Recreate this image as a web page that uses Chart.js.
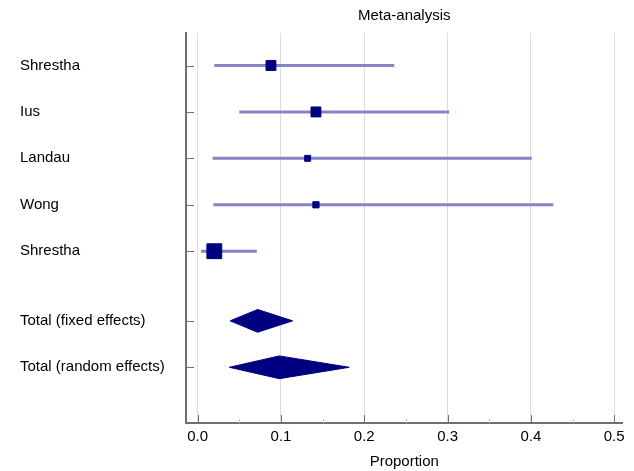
<!DOCTYPE html>
<html>
<head>
<meta charset="utf-8">
<script src="https://cdn.jsdelivr.net/npm/chart.js@4.4.0/dist/chart.umd.min.js"></script>
<style>
    html, body { margin: 0; padding: 0; background: #ffffff; }
    #wrap { width: 634px; height: 471px; }
</style>
</head>
<body>
<div id="wrap"><canvas id="forest"></canvas></div>
<script>
// studies
const studyNames = ['Shrestha', 'Ius', 'Landau', 'Wong', 'Shrestha'];
const studyEst = [0.088, 0.142, 0.132, 0.142, 0.020];
const studyLow = [0.020, 0.050, 0.018, 0.019, 0.004];
const studyHigh = [0.236, 0.302, 0.401, 0.427, 0.071];
const studyWeight = [7.0, 7.0, 4.2, 4.4, 10.5]; // marker half-size from weight

// pooled
const totalNames = ['Total (fixed effects)', 'Total (random effects)'];
const totalEst = [0.072, 0.098];
const totalLow = [0.039, 0.038];
const totalHigh = [0.114, 0.182];

// row layout (half row gap before totals)
const studyRows = [1, 2, 3, 4, 5];
const totalRows = [6.5, 7.5];

const xTicks = [0, 0.1, 0.2, 0.3, 0.4, 0.5];

const NAVY = '#000080';
const CI_COLOR = '#8585c6';
const AXIS_COLOR = '#707070';
const DIAMOND_HALF = 0.245;
const FONT = 'Liberation Sans, Arial, sans-serif';

const allRows = studyRows.concat(totalRows);
const allNames = studyNames.concat(totalNames);

function diamond(i) {
    const y = totalRows[i];
    return [
        { x: totalLow[i], y: y },
        { x: totalEst[i], y: y - DIAMOND_HALF },
        { x: totalHigh[i], y: y },
        { x: totalEst[i], y: y + DIAMOND_HALF },
        { x: totalLow[i], y: y }
    ];
}

const datasets = [];

studyRows.forEach((row, i) => {
    datasets.push({
        type: 'line',
        data: [{ x: studyLow[i], y: row }, { x: studyHigh[i], y: row }],
        borderColor: CI_COLOR,
        borderWidth: 3,
        pointRadius: 0,
        order: 2
    });
});

datasets.push({
    type: 'scatter',
    data: studyRows.map((row, i) => ({ x: studyEst[i], y: row })),
    pointStyle: 'rect',
    pointRadius: studyWeight,
    backgroundColor: NAVY,
    borderColor: NAVY,
    borderWidth: 1,
    order: 1
});

totalRows.forEach((row, i) => {
    datasets.push({
        type: 'line',
        data: diamond(i),
        borderColor: NAVY,
        backgroundColor: NAVY,
        borderWidth: 1,
        fill: 'shape',
        pointRadius: 0,
        tension: 0,
        order: 1
    });
});

// ticks drawn inward from the axis lines
const innerTicks = {
    id: 'innerTicks',
    afterDatasetsDraw(chart) {
        const ctx = chart.ctx;
        const xs = chart.scales.x;
        const ys = chart.scales.y;
        const area = chart.chartArea;
        ctx.save();
        ctx.strokeStyle = AXIS_COLOR;
        ctx.lineWidth = 1;
        ctx.beginPath();
        xTicks.forEach(v => {
            const px = Math.round(xs.getPixelForValue(v)) + 0.5;
            ctx.moveTo(px, area.bottom);
            ctx.lineTo(px, area.bottom - 8);
        });
        ctx.stroke();
        ctx.strokeStyle = '#c8c8c8';
        ctx.beginPath();
        for (let k = 0; k < xTicks.length - 1; k++) {
            const px = Math.round(xs.getPixelForValue((xTicks[k] + xTicks[k + 1]) / 2)) + 0.5;
            ctx.moveTo(px, area.bottom);
            ctx.lineTo(px, area.bottom - 4);
        }
        ctx.stroke();
        ctx.strokeStyle = AXIS_COLOR;
        ctx.beginPath();
        allRows.forEach(v => {
            const py = Math.round(ys.getPixelForValue(v)) + 0.5;
            ctx.moveTo(area.left + 1, py);
            ctx.lineTo(area.left + 8, py);
        });
        ctx.stroke();
        ctx.restore();
    }
};

new Chart(document.getElementById('forest'), {
    type: 'scatter',
    data: { datasets: datasets },
    plugins: [innerTicks],
    options: {
        responsive: true,
        maintainAspectRatio: false,
        animation: false,
        layout: { padding: { left: 20, right: 10, top: 3, bottom: 0 } },
        plugins: {
            legend: { display: false },
            tooltip: { enabled: false },
            title: {
                display: true,
                text: 'Meta-analysis',
                fullSize: false,
                color: '#000',
                font: { family: FONT, size: 15, weight: 'normal' },
                padding: { top: 4, bottom: 8 }
            }
        },
        scales: {
            x: {
                type: 'linear',
                min: -0.014,
                max: 0.51,
                afterBuildTicks: scale => {
                    scale.ticks = xTicks.map(v => ({ value: v }));
                },
                ticks: {
                    color: '#000',
                    font: { family: FONT, size: 15 },
                    padding: 5,
                    maxRotation: 0,
                    callback: v => v.toFixed(1)
                },
                grid: { color: '#dcdcdc', lineWidth: 1, drawTicks: false },
                border: { display: true, color: AXIS_COLOR, width: 2 },
                title: {
                    display: true,
                    text: 'Proportion',
                    color: '#000',
                    font: { family: FONT, size: 15 },
                    padding: { top: 2, bottom: 0 }
                }
            },
            y: {
                type: 'linear',
                reverse: true,
                min: 0.3,
                max: 8.7,
                afterBuildTicks: scale => {
                    scale.ticks = allRows.map(v => ({ value: v }));
                },
                afterFit: scale => { scale.width = 166; },
                ticks: {
                    color: '#000',
                    font: { family: FONT, size: 15 },
                    crossAlign: 'far',
                    padding: 6,
                    autoSkip: false,
                    callback: v => {
                        const idx = allRows.indexOf(v);
                        return idx >= 0 ? allNames[idx] : '';
                    }
                },
                grid: { display: false, drawTicks: false },
                border: { display: true, color: AXIS_COLOR, width: 2 }
            }
        }
    }
});
</script>
</body>
</html>
